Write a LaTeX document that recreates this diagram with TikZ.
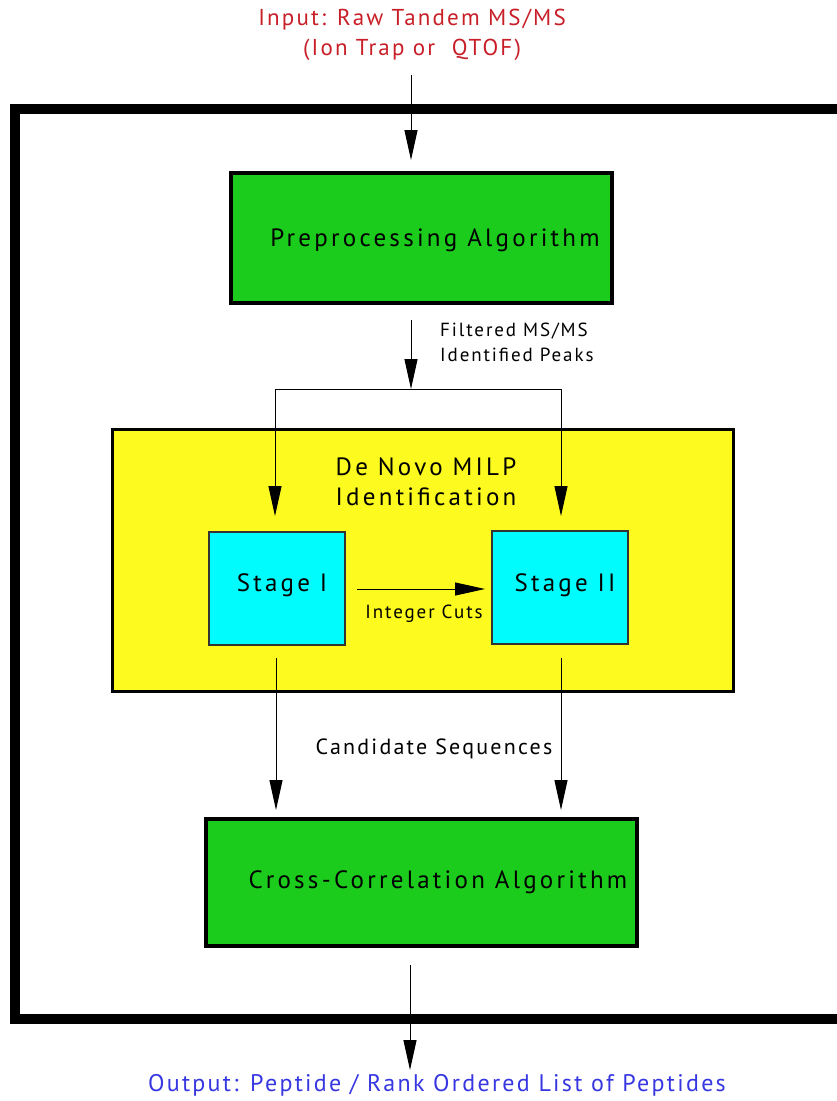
\documentclass[tikz,border=0pt]{standalone}
\usepackage{fontspec}
\setmainfont{PT Sans}
\newfontfamily\boxfont[LetterSpace=13]{PT Sans}
\newfontfamily\lblfont[LetterSpace=10]{PT Sans}
\newfontfamily\endfont[LetterSpace=9.5]{PT Sans}
\usetikzlibrary{arrows.meta}
\definecolor{boxgreen}{RGB}{28,204,28}
\definecolor{boxyellow}{RGB}{252,250,30}
\definecolor{boxcyan}{RGB}{0,252,252}
\definecolor{inred}{RGB}{200,30,40}
\definecolor{outblue}{RGB}{55,55,225}
\tikzset{
  greenbox/.style={draw=black, line width=3.5pt, fill=boxgreen, inner sep=0pt},
  yellowbox/.style={draw=black, line width=3pt, fill=boxyellow, inner sep=0pt},
  cyanbox/.style={draw=black!80, line width=1.2pt, fill=boxcyan, inner sep=0pt},
  flow/.style={draw=black, line width=1pt, -{Triangle[length=30pt,width=13pt]}},
  plain/.style={draw=black, line width=1pt},
  lbl/.style={font=\lblfont\fontsize{19}{25}\selectfont, inner sep=0pt, align=left},
  boxtxt/.style={font=\boxfont\fontsize{25}{30}\selectfont}
}
\begin{document}
\begin{tikzpicture}[x=1pt,y=-1pt]
\useasboundingbox (0,0) rectangle (836,1101);
% outer frame (open on the right)
\draw[line width=10pt] (845,109) -- (15,109) -- (15,1019) -- (845,1019);
% texts at ends
\node[font=\endfont\fontsize{23}{30}\selectfont, text=inred, align=center] (in) at (412,35) {Input: Raw Tandem MS/MS\\(Ion Trap or \ QTOF)};
\node[font=\endfont\fontsize{24}{28}\selectfont, text=outblue] (out) at (437,1085) {Output: Peptide / Rank Ordered List of Peptides};
% boxes
\node[greenbox, minimum width=381pt, minimum height=130pt] (pre) at (421.5,238) {};
\node[boxtxt] at (435,240) {Preprocessing Algorithm};
\node[yellowbox, minimum width=621pt, minimum height=262pt] (milp) at (422.5,560) {};
\node[boxtxt, align=center] (milpt) at (426,482) {De Novo MILP\\Identification};
\node[cyanbox, minimum width=136pt, minimum height=113pt] (s1) at (277,588.5) {};
\node[boxtxt] at (282,585) {Stage I};
\node[cyanbox, minimum width=136pt, minimum height=113pt] (s2) at (560,587.5) {};
\node[boxtxt] at (565,585) {Stage II};
\node[greenbox, minimum width=431pt, minimum height=127pt] (cc) at (421.5,882.5) {};
\node[boxtxt] at (438,882) {Cross-Correlation Algorithm};
% coordinates
\coordinate (a1) at (411,75);
\coordinate (a2) at (411,160);
\coordinate (b1) at (411,320);
\coordinate (b2) at (411,389);
\coordinate (bl) at (275,389);
\coordinate (br) at (561,389);
\coordinate (bl2) at (275,516);
\coordinate (br2) at (561,516);
\coordinate (c1) at (357,589);
\coordinate (c2) at (485,589);
\coordinate (d1) at (276,658);
\coordinate (d2) at (276,810);
\coordinate (e1) at (561,658);
\coordinate (e2) at (561,810);
\coordinate (f1) at (410,965);
\coordinate (f2) at (410,1070);
% connectors
\draw[flow] (a1) -- (a2);
\draw[flow] (b1) -- (b2);
\draw[plain] (bl) -- (br);
\draw[flow] (bl) -- (bl2);
\draw[flow] (br) -- (br2);
\draw[flow] (c1) -- (c2);
\draw[flow] (d1) -- (d2);
\draw[flow] (e1) -- (e2);
\draw[flow] (f1) -- (f2);
% labels
\node[lbl, anchor=west] (lf) at (440,342) {Filtered MS/MS\\Identified Peaks};
\node[lbl] (lic) at (424,614) {Integer Cuts};
\node[lbl, font=\lblfont\fontsize{22}{26}\selectfont] (lcs) at (434,749) {Candidate Sequences};
\end{tikzpicture}
\end{document}
